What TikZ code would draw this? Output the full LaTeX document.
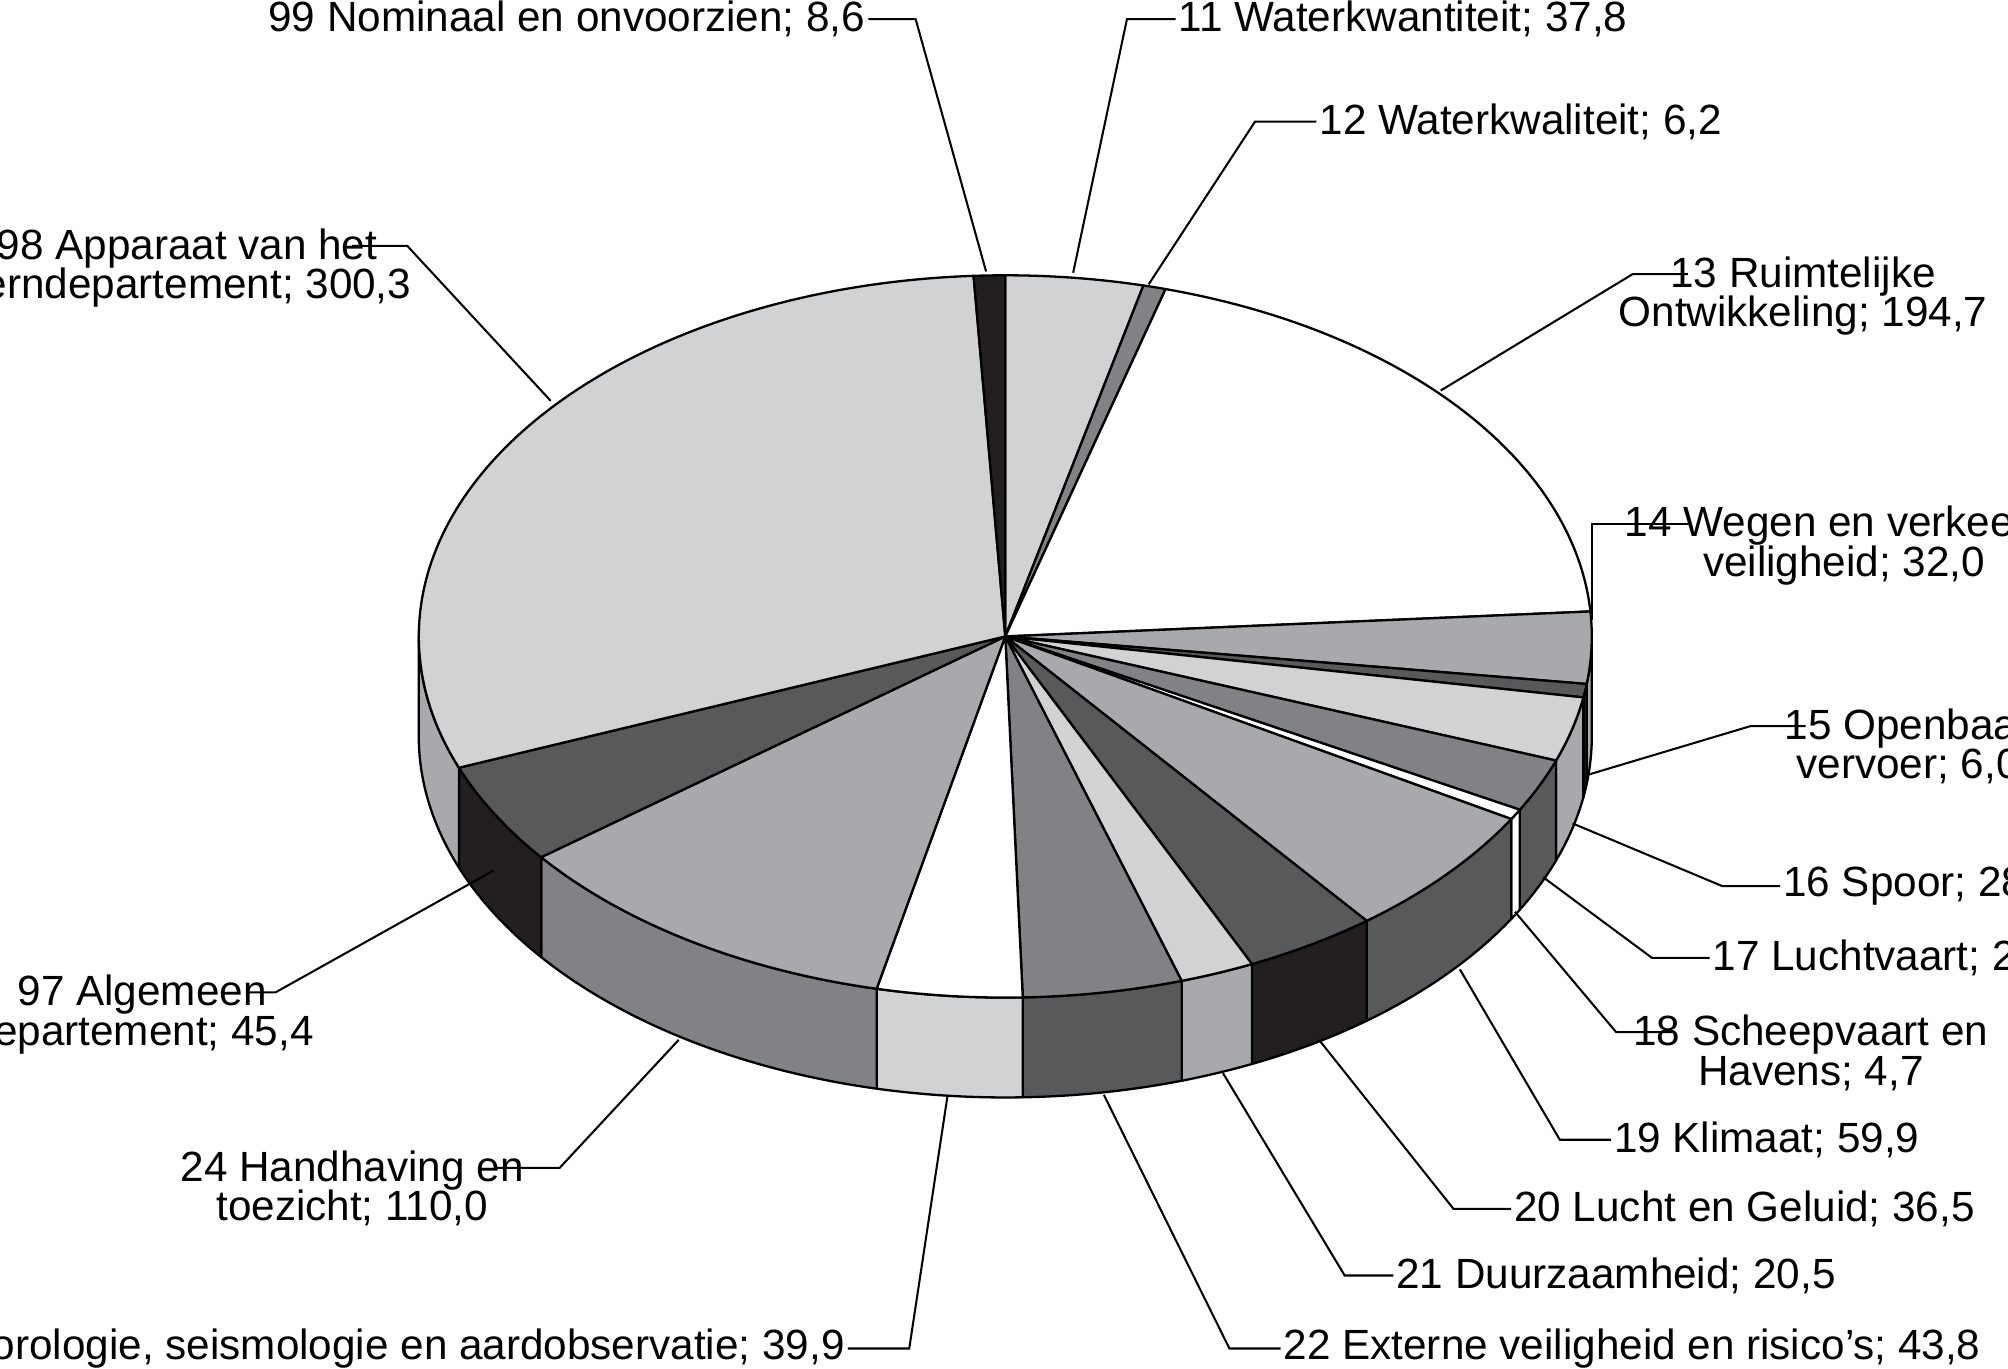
\documentclass[tikz,border=0pt]{standalone}
\usepackage{fontspec}
\setmainfont{Liberation Sans}
\usetikzlibrary{calc}
\definecolor{lvA}{HTML}{FFFFFF}
\definecolor{lvB}{HTML}{D1D2D4}
\definecolor{lvC}{HTML}{A7A9AC}
\definecolor{lvD}{HTML}{808285}
\definecolor{lvE}{HTML}{58595B}
\definecolor{lvF}{HTML}{231F20}
\tikzset{
  slice/.style={draw=black,line width=0.9pt,line join=round},
  lbl/.style={font=\fontsize{16.5}{15.5}\selectfont,inner sep=1pt,align=center},
  lead/.style={draw=black,line width=0.8pt}
}
\begin{document}
\begin{tikzpicture}[x=0.5pt,y=0.5pt]
	\useasboundingbox (0,0) rectangle (1568,1069);
	\coordinate (c) at (785,572);
	
	% side of the pie
	\foreach \a/\b/\col in {0/-7.56/lvC,-7.56/-9.72/lvF,-9.72/-20.10/lvC,-20.10/-28.68/lvE,
		-28.68/-30.37/lvA,-30.37/-51.96/lvE,-51.96/-65.12/lvF,-65.12/-72.50/lvC,
		-72.50/-88.29/lvE,-88.29/-102.67/lvB,-102.67/-142.31/lvD,-142.31/-158.68/lvF,
		-158.68/-180/lvC}
	{
		\draw[slice,fill=\col] ($(c)+(\a:458 and 282)$) arc[start angle=\a,end angle=\b,x radius=458,y radius=282]
			-- ++(0,-78) arc[start angle=\b,end angle=\a,x radius=458,y radius=282] -- cycle;
	}
	
	% top of the pie
	\foreach \a/\b/\col in {90/76.38/lvB,76.38/74.14/lvD,74.14/3.97/lvA,3.97/-7.56/lvC,
		-7.56/-9.72/lvE,-9.72/-20.10/lvB,-20.10/-28.68/lvD,-28.68/-30.37/lvA,
		-30.37/-51.96/lvC,-51.96/-65.12/lvE,-65.12/-72.50/lvB,-72.50/-88.29/lvD,
		-88.29/-102.67/lvA,-102.67/-142.31/lvC,-142.31/-158.68/lvE,-158.68/-266.90/lvB,
		-266.90/-270/lvF}
	{
		\draw[slice,fill=\col] (c) -- ($(c)+(\a:458 and 282)$) arc[start angle=\a,end angle=\b,x radius=458,y radius=282] -- cycle;
	}
	
	% labels
	\node[lbl,anchor=east] (l99) at (678,1054) {99 Nominaal en onvoorzien; 8,6};
	\node[lbl,anchor=west] (l11) at (918,1054) {11 Waterkwantiteit; 37,8};
	\node[lbl,anchor=west] (l12) at (1028,974) {12 Waterkwaliteit; 6,2};
	\node[lbl,anchor=north] (l13) at (1408,871) {13 Ruimtelijke\\Ontwikkeling; 194,7};
	\node[lbl,anchor=north] (l14) at (1440,676) {14 Wegen en verkeers-\\veiligheid; 32,0};
	\node[lbl,anchor=north] (l15) at (1490,518) {15 Openbaar\\vervoer; 6,0};
	\node[lbl,anchor=west] (l16) at (1390,377) {16 Spoor; 28,8};
	\node[lbl,anchor=west] (l17) at (1335,321) {17 Luchtvaart; 23,8};
	\node[lbl,anchor=north] (l18) at (1414,279) {18 Scheepvaart en\\Havens; 4,7};
	\node[lbl,anchor=west] (l19) at (1258,179) {19 Klimaat; 59,9};
	\node[lbl,anchor=west] (l20) at (1180,125) {20 Lucht en Geluid; 36,5};
	\node[lbl,anchor=west] (l21) at (1088,73) {21 Duurzaamheid; 20,5};
	\node[lbl,anchor=west] (l22) at (1000,16) {22 Externe veiligheid en risico’s; 43,8};
	\node[lbl,anchor=east] (l23) at (662,16) {23 Meteorologie, seismologie en aardobservatie; 39,9};
	\node[lbl,anchor=north] (l24) at (275,173) {24 Handhaving en\\toezicht; 110,0};
	\node[lbl,anchor=north] (l97) at (111,310) {97 Algemeen\\departement; 45,4};
	\node[lbl,anchor=north] (l98) at (146,893) {98 Apparaat van het\\kerndepartement; 300,3};
	
	% leader lines
	\foreach \n/\sx/\sy/\kx/\ky/\ex/\ey in {99/678/1054/715/1054/770/857, 11/918/1054/880/1054/838/856,
		12/1028/974/980/974/897/847, 13/1318/855/1275/855/1125/764,
		14/1320/660/1243/660/1243/585, 15/1410/502/1367/502/1240/464,
		16/1390/377/1345/377/1228/426, 17/1335/321/1290/321/1205/384,
		18/1306/263/1262/263/1183/357, 19/1258/179/1218/179/1140/312,
		20/1180/125/1135/125/1030/257, 21/1088/73/1050/73/955/231,
		22/1000/16/960/16/862/214, 23/662/16/710/16/740/214,
		24/387/157/437/157/530/257, 97/192/294/215/294/385/389,
		98/275/877/318/877/430/756}
	{
		\coordinate (s\n) at (\sx,\sy);
		\coordinate (k\n) at (\kx,\ky);
		\coordinate (e\n) at (\ex,\ey);
		\draw[lead] (s\n) -- (k\n) -- (e\n);
	}
\end{tikzpicture}
\end{document}
